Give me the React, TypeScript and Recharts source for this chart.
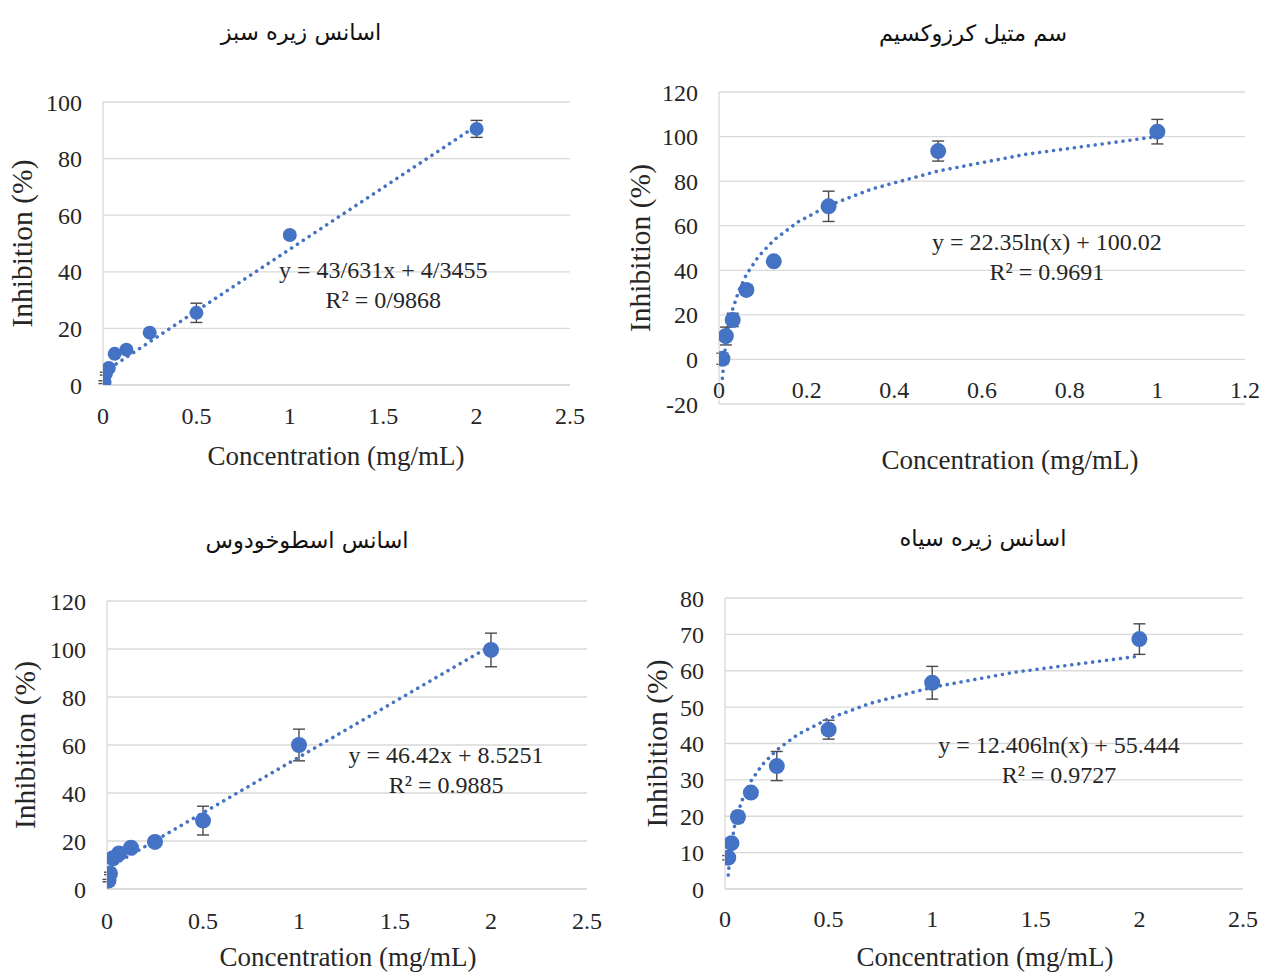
import React from 'react';
import { ScatterChart, Scatter, XAxis, YAxis, CartesianGrid, ErrorBar, ReferenceDot } from 'recharts';

const FONT = "'Liberation Serif', 'Times New Roman', serif";
const TITLE_FONT = "'DejaVu Sans', 'Noto Sans', sans-serif";
const BLUE = '#4472C4';
const GRID = '#d9d9d9';
const TEXT = '#262626';
const ERR = '#4a4a4a';

// ---------- Panel 1: اسانس زیره سبز ----------
const conc1 = [0.0078, 0.0156, 0.03125, 0.0625, 0.125, 0.25, 0.5, 1, 2];
const inh1 = [1, 4, 6, 11, 12.5, 18.5, 25.5, 53, 90.5];
const err1 = [0.5, 0.5, 0.5, 0.5, 0.8, 0.5, 3.4, 1, 3];
const trendX1 = [0.0078, 2];
const trendY1 = [4.69, 91.61];
const xTicks1 = [0, 0.5, 1, 1.5, 2, 2.5];
const yTicks1 = [0, 20, 40, 60, 80, 100];

// ---------- Panel 2: سم متیل کرزوکسیم ----------
const conc2 = [0.0078, 0.0156, 0.03125, 0.0625, 0.125, 0.25, 0.5, 1];
const inh2 = [0.3, 10.5, 17.7, 31.2, 44, 68.7, 93.5, 102.2];
const err2 = [2.5, 4, 3, 2, 1.5, 6.8, 4.5, 5.5];
const trendX2 = [0.0078, 0.012, 0.0156, 0.022, 0.03125, 0.045, 0.0625, 0.09, 0.125, 0.18, 0.25, 0.35, 0.5, 0.7, 1];
const trendY2 = [-8.46, 1.17, 7.03, 14.72, 22.56, 30.71, 38.05, 46.2, 53.54, 61.69, 69.04, 76.56, 84.53, 92.05, 100.02];
const xTicks2 = [0, 0.2, 0.4, 0.6, 0.8, 1, 1.2];
const yTicks2 = [-20, 0, 20, 40, 60, 80, 100, 120];

// ---------- Panel 3: اسانس اسطوخودوس ----------
const conc3 = [0.0078, 0.0156, 0.03125, 0.0625, 0.125, 0.25, 0.5, 1, 2];
const inh3 = [3.5, 6.5, 12.8, 14.8, 17.2, 19.6, 28.5, 60, 99.6];
const err3 = [0.5, 0.5, 0.8, 0.5, 0.8, 0.5, 6, 6.6, 7];
const trendX3 = [0.0078, 2];
const trendY3 = [8.89, 101.37];
const xTicks3 = [0, 0.5, 1, 1.5, 2, 2.5];
const yTicks3 = [0, 20, 40, 60, 80, 100, 120];

// ---------- Panel 4: اسانس زیره سیاه ----------
const conc4 = [0.0156, 0.03125, 0.0625, 0.125, 0.25, 0.5, 1, 2];
const inh4 = [8.6, 12.6, 19.8, 26.5, 33.8, 43.8, 56.7, 68.7];
const err4 = [0.6, 0.6, 1.5, 1, 4, 2.6, 4.5, 4.2];
const trendX4 = [0.0156, 0.022, 0.03125, 0.045, 0.0625, 0.09, 0.125, 0.18, 0.25, 0.35, 0.5, 0.7, 1, 1.4, 2];
const trendY4 = [3.83, 8.09, 12.45, 16.97, 21.05, 25.57, 29.65, 34.17, 38.24, 42.42, 46.84, 51.02, 55.44, 59.62, 64.04];
const xTicks4 = [0, 0.5, 1, 1.5, 2, 2.5];
const yTicks4 = [0, 10, 20, 30, 40, 50, 60, 70, 80];

const titles = ['اسانس زیره سبز', 'سم متیل کرزوکسیم', 'اسانس اسطوخودوس', 'اسانس زیره سیاه'];
const equations = [
  ['y = 43/631x + 4/3455', 'R² = 0/9868'],
  ['y = 22.35ln(x) + 100.02', 'R² = 0.9691'],
  ['y = 46.42x + 8.5251', 'R² = 0.9885'],
  ['y = 12.406ln(x) + 55.444', 'R² = 0.9727'],
];
const X_TITLE = 'Concentration (mg/mL)';
const Y_TITLE = 'Inhibition (%)';

const zip = (xs: number[], ys: number[], es?: number[]) =>
  xs.map((x, i) => ({ x, y: ys[i], e: es ? es[i] : 0 }));

type PanelProps = {
  plot: { left: number; top: number; width: number; height: number };
  xDomain: [number, number];
  yDomain: [number, number];
  xTicks: number[];
  yTicks: number[];
  points: { x: number; y: number; e: number }[];
  trend: { x: number; y: number }[];
  title: string;
  titleAt: [number, number];
  eq: string[];
  eqAt: [number, number];
  xTitleAt: [number, number];
  yTitleX: number;
  xTickDy: number;
  xAxisLine: boolean;
  r: number;
};

function Panel(p: PanelProps) {
  const chartLeft = p.plot.left - 100;
  const chartTop = p.plot.top - 60;
  const W = p.plot.width + 120;
  const H = p.plot.height + 160;
  const xTick = (props: any) => {
    const { x, y, payload } = props;
    return (
      <text x={x} y={y + p.xTickDy} dy="0.35em" textAnchor="middle" fontSize={24} fontFamily={FONT} fill={TEXT}>
        {payload.value}
      </text>
    );
  };
  const yLabel = () => {
    const lx = p.yTitleX - chartLeft;
    const ly = 60 + p.plot.height / 2;
    return (
      <text x={lx} y={ly} transform={`rotate(-90, ${lx}, ${ly})`} textAnchor="middle" dominantBaseline="central"
        fontSize={29.5} fontFamily={FONT} fill={TEXT}>
        {Y_TITLE}
      </text>
    );
  };
  const xLabel = () => (
    <text x={p.xTitleAt[0] - chartLeft} y={p.xTitleAt[1] - chartTop} textAnchor="middle" dominantBaseline="central"
      fontSize={27} fontFamily={FONT} fill={TEXT}>
      {X_TITLE}
    </text>
  );
  const eqLabel = (props: any) => {
    const vb = props.viewBox || {};
    const cx = (vb.x ?? 0) + (vb.width ?? 0) / 2;
    const cy = (vb.y ?? 0) + (vb.height ?? 0) / 2;
    return (
      <g>
        <text x={cx} y={cy - 15} textAnchor="middle" dominantBaseline="central" fontSize={24} fontFamily={FONT} fill={TEXT}>
          {p.eq[0]}
        </text>
        <text x={cx} y={cy + 15} textAnchor="middle" dominantBaseline="central" fontSize={24} fontFamily={FONT} fill={TEXT}>
          {p.eq[1]}
        </text>
      </g>
    );
  };
  return (
    <>
      <div
        dir="rtl"
        style={{
          position: 'absolute',
          left: p.titleAt[0] - 200,
          top: p.titleAt[1] - 20,
          width: 400,
          height: 40,
          lineHeight: '40px',
          textAlign: 'center',
          fontFamily: TITLE_FONT,
          fontSize: 22.5,
          color: '#111111',
        }}
      >
        {p.title}
      </div>
      <div style={{ position: 'absolute', left: chartLeft, top: chartTop }}>
        <ScatterChart width={W} height={H} margin={{ top: 60, right: 20, bottom: 50, left: 40 }}>
          <CartesianGrid vertical={false} stroke={GRID} strokeWidth={1.3} />
          <XAxis
            type="number"
            dataKey="x"
            domain={p.xDomain}
            ticks={p.xTicks}
            interval={0}
            allowDataOverflow
            axisLine={p.xAxisLine ? { stroke: GRID, strokeWidth: 1.3 } : false}
            tickLine={false}
            tickSize={0}
            tickMargin={0}
            tick={xTick}
            height={50}
            label={xLabel}
          />
          <YAxis
            type="number"
            dataKey="y"
            domain={p.yDomain}
            ticks={p.yTicks}
            interval={0}
            allowDataOverflow
            axisLine={{ stroke: GRID, strokeWidth: 1.3 }}
            tickLine={false}
            tickSize={0}
            tickMargin={21}
            width={60}
            tick={{ fontSize: 24, fill: TEXT, fontFamily: FONT }}
            label={yLabel}
          />
          <Scatter
            data={p.trend}
            isAnimationActive={false}
            fill={BLUE}
            line={{ stroke: BLUE, strokeWidth: 3.6, strokeDasharray: '0.01 7', strokeLinecap: 'round', fill: 'none' }}
            shape={() => <g />}
            legendType="none"
          />
          <Scatter data={p.points} isAnimationActive={false} fill="none" shape={() => <g />} legendType="none">
            <ErrorBar dataKey="e" direction="y" width={6} stroke={ERR} strokeWidth={1.4} isAnimationActive={false} />
          </Scatter>
          <Scatter
            data={p.points}
            isAnimationActive={false}
            fill={BLUE}
            shape={(s: any) => <circle cx={s.cx} cy={s.cy} r={p.r} fill={BLUE} />}
          />
          <ReferenceDot x={p.eqAt[0]} y={p.eqAt[1]} r={1} fill="none" stroke="none" label={eqLabel} />
        </ScatterChart>
      </div>
    </>
  );
}

export default function App() {
  return (
    <div
      style={{
        position: 'absolute',
        left: 0,
        top: 0,
        width: 1263,
        height: 974,
        overflow: 'hidden',
        background: '#ffffff',
      }}
    >
      <Panel
        plot={{ left: 103, top: 102, width: 467, height: 283 }}
        xDomain={[0, 2.5]}
        yDomain={[0, 100]}
        xTicks={xTicks1}
        yTicks={yTicks1}
        points={zip(conc1, inh1, err1)}
        trend={zip(trendX1, trendY1)}
        title={titles[0]}
        titleAt={[301, 32]}
        eq={equations[0]}
        eqAt={[1.5, 35.3]}
        xTitleAt={[336, 456]}
        yTitleX={22}
        xTickDy={31}
        xAxisLine={true}
        r={7}
      />
      <Panel
        plot={{ left: 719, top: 92, width: 526, height: 312 }}
        xDomain={[0, 1.2]}
        yDomain={[-20, 120]}
        xTicks={xTicks2}
        yTicks={yTicks2}
        points={zip(conc2, inh2, err2)}
        trend={zip(trendX2, trendY2)}
        title={titles[1]}
        titleAt={[973, 33]}
        eq={equations[1]}
        eqAt={[0.748, 45.8]}
        xTitleAt={[1010, 460]}
        yTitleX={640}
        xTickDy={-14}
        xAxisLine={false}
        r={8}
      />
      <Panel
        plot={{ left: 107, top: 601, width: 480, height: 288 }}
        xDomain={[0, 2.5]}
        yDomain={[0, 120]}
        xTicks={xTicks3}
        yTicks={yTicks3}
        points={zip(conc3, inh3, err3)}
        trend={zip(trendX3, trendY3)}
        title={titles[2]}
        titleAt={[307, 540]}
        eq={equations[2]}
        eqAt={[1.766, 49.6]}
        xTitleAt={[348, 957]}
        yTitleX={25}
        xTickDy={32}
        xAxisLine={true}
        r={8}
      />
      <Panel
        plot={{ left: 725, top: 598, width: 518, height: 291 }}
        xDomain={[0, 2.5]}
        yDomain={[0, 80]}
        xTicks={xTicks4}
        yTicks={yTicks4}
        points={zip(conc4, inh4, err4)}
        trend={zip(trendX4, trendY4)}
        title={titles[3]}
        titleAt={[983, 538]}
        eq={equations[3]}
        eqAt={[1.612, 35.5]}
        xTitleAt={[985, 957]}
        yTitleX={657}
        xTickDy={30}
        xAxisLine={true}
        r={8}
      />
    </div>
  );
}
